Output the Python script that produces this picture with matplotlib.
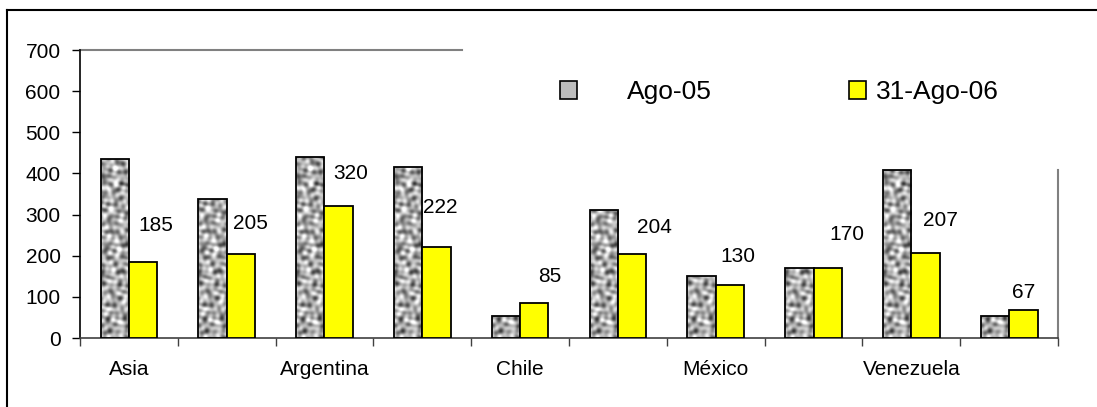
import numpy as np
import matplotlib.pyplot as plt
from matplotlib.lines import Line2D
from matplotlib.patches import Patch

plt.rcParams['font.family'] = ['Liberation Sans', 'DejaVu Sans']

# Spreads by region / country (only every second name is printed on the axis)
categories = ['Asia', 'América Latina', 'Argentina', 'Brasil', 'Chile',
              'Colombia', 'México', 'Perú', 'Venezuela', 'Europa']
ago_05 = [434, 338, 439, 415, 53, 311, 151, 170, 408, 53]
ago_06 = [185, 205, 320, 222, 85, 204, 130, 170, 207, 67]
series_names = ['Ago-05', '31-Ago-06']

# hand-placed label offsets (points) from the top of each yellow bar
label_dx = [9, 7, 9, 3, 11, 16, 6, 14, 11, 0]
label_dy = [26, 22, 24, 28, 19, 19, 20, 24, 23, 13]


def granite(h=300, w=30):
    # deterministic mottled texture for the grey bars (sum of tilted waves)
    y, x = np.mgrid[0:h, 0:w].astype(float)
    t = np.zeros_like(x)
    for k, ang in enumerate(np.linspace(0.2, 3.0, 9)):
        f = 0.36 + 0.09 * ((k * 5) % 7)
        u = x * np.cos(ang) + y * np.sin(ang)
        t += np.sin(f * u + 1.3 * k + 0.8 * np.sin(0.17 * (x - y) + k))
    return t


fig = plt.figure(figsize=(10.97, 4.07), dpi=100)
ax = fig.add_axes([0.0729, 0.1695, 0.8916, 0.7076])

x = np.arange(len(categories))
w = 0.29
bars_a = ax.bar(x - w / 2, ago_05, w, facecolor='none', edgecolor='black',
                linewidth=1.3, zorder=3)
bars_b = ax.bar(x + w / 2, ago_06, w, color='#ffff00', edgecolor='black',
                linewidth=1.3, zorder=3)

tex = granite()
for b in bars_a:
    bx = b.get_x()
    im = ax.imshow(tex, cmap='gray', vmin=-8.5, vmax=4.5, aspect='auto',
                   extent=(bx, bx + b.get_width(), 0, 700), zorder=2.9,
                   interpolation='bilinear')
    im.set_clip_path(b)

for i, v in enumerate(ago_06):
    ax.annotate(str(v), (x[i] + w / 2, v), xytext=(label_dx[i], label_dy[i]),
                textcoords='offset points', ha='center', va='center',
                fontsize=15)

ax.set_xlim(-0.5, len(categories) - 0.5)
ax.set_ylim(0, 700)
ax.set_yticks(range(0, 701, 100))
ax.set_xticks(x)
ax.set_xticklabels([c if i % 2 == 0 else '' for i, c in enumerate(categories)])
ax.set_xticks(np.arange(-0.5, len(categories), 1), minor=True)
ax.tick_params(axis='x', which='major', length=0, pad=16, labelsize=15)
ax.tick_params(axis='x', which='minor', length=6, width=1, color='#404040')
ax.tick_params(axis='y', length=6, width=1, pad=8, labelsize=15)

for s in ['top', 'right']:
    ax.spines[s].set_visible(False)
ax.spines['left'].set_linewidth(1.2)
ax.spines['bottom'].set_linewidth(1.2)
ax.spines['bottom'].set_color('#404040')

# partial plot-area border (the rest is hidden behind the legend box)
ax.add_line(Line2D([0, 0.3906], [1, 1], transform=ax.transAxes,
                   color='#808080', lw=1.5, clip_on=False))
ax.add_line(Line2D([1, 1], [0, 0.583], transform=ax.transAxes,
                   color='#808080', lw=1.5, clip_on=False))

# chart frame
fig.add_artist(Line2D([0.0064, 1], [0.9754, 0.9754], color='black', lw=1.5))
fig.add_artist(Line2D([0.0064, 0.0064], [0, 0.9754], color='black', lw=1.5))

leg1 = fig.legend(handles=[Patch(facecolor='#bdbdbd', edgecolor='black', lw=1.2)],
                  labels=[series_names[0]], loc='center left',
                  bbox_to_anchor=(0.5105, 0.774), frameon=False, fontsize=19,
                  handlelength=0.65, handleheight=0.65, handletextpad=1.9,
                  borderpad=0, borderaxespad=0)
leg2 = fig.legend(handles=[Patch(facecolor='#ffff00', edgecolor='black', lw=1.2)],
                  labels=[series_names[1]], loc='center left',
                  bbox_to_anchor=(0.774, 0.774), frameon=False, fontsize=19,
                  handlelength=0.65, handleheight=0.65, handletextpad=0.38,
                  borderpad=0, borderaxespad=0)

fig.savefig('out.png', dpi=100)
